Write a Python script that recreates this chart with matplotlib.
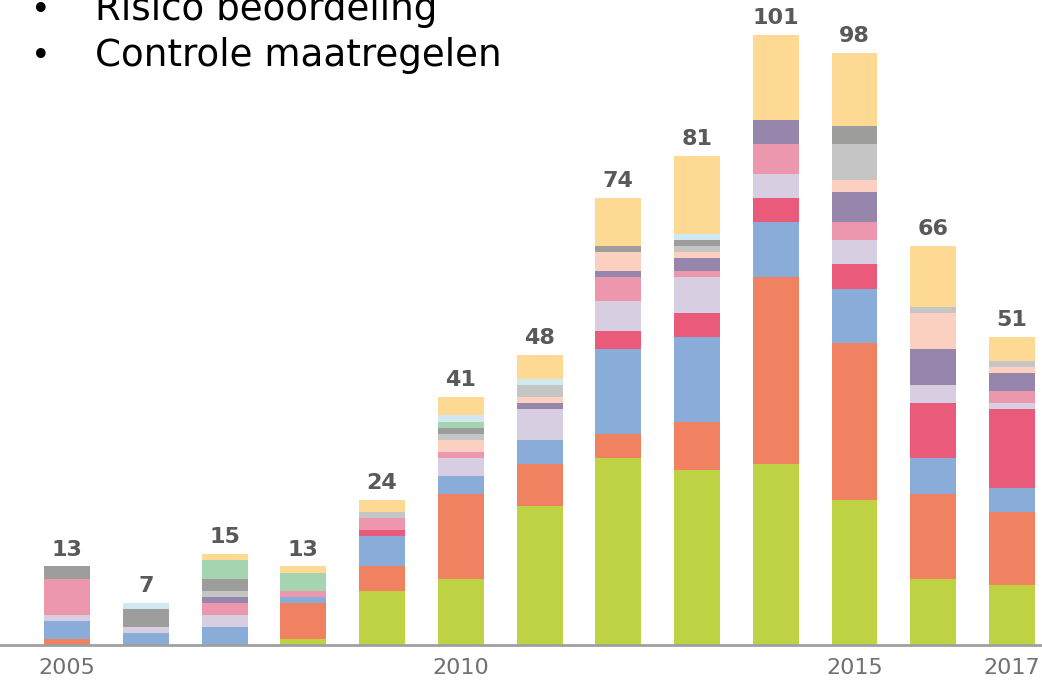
import matplotlib
matplotlib.use("Agg")
from matplotlib import pyplot as plt
import numpy as np

years = [2005, 2006, 2007, 2008, 2009, 2010, 2011, 2012, 2013, 2014, 2015, 2016, 2017]
tick_years = [2005, 2010, 2015, 2017]

# stacked from bottom to top
green = [0, 0, 0, 1, 9, 11, 23, 31, 29, 30, 24, 11, 10]
orange = [1, 0, 0, 6, 4, 14, 7, 4, 8, 31, 26, 14, 12]
blue = [3, 2, 3, 1, 5, 3, 4, 14, 14, 9, 9, 6, 4]
red = [0, 0, 0, 0, 1, 0, 0, 3, 4, 4, 4, 9, 13]
lavender = [1, 1, 2, 0, 0, 3, 5, 5, 6, 4, 4, 3, 1]
pink = [6, 0, 2, 1, 2, 1, 0, 4, 1, 5, 3, 0, 2]
purple = [0, 0, 1, 0, 0, 0, 1, 1, 2, 4, 5, 6, 3]
peach = [0, 0, 0, 0, 0, 2, 1, 3, 1, 0, 2, 6, 1]
lightgray = [0, 0, 1, 0, 1, 1, 2, 0, 1, 0, 6, 1, 1]
darkgray = [2, 3, 2, 0, 0, 1, 0, 1, 1, 0, 3, 0, 0]
lightgreen = [0, 0, 3, 3, 0, 1, 0, 0, 0, 0, 0, 0, 0]
cyan = [0, 1, 0, 0, 0, 1, 1, 0, 1, 0, 0, 0, 0]
yellow = [0, 0, 1, 1, 2, 3, 4, 8, 13, 14, 12, 10, 4]

series = [green, orange, blue, red, lavender, pink, purple, peach,
          lightgray, darkgray, lightgreen, cyan, yellow]
colors = ['#BFD243', '#F08262', '#8AACD9', '#EA5A7A', '#D8CEE2', '#EC97AE',
          '#9686AC', '#FBD0C1', '#C5C5C5', '#9D9D9B', '#A7D4B0', '#D0E9F0', '#FDD993']

fig = plt.figure(figsize=(10.42, 6.8), dpi=100)
ax = fig.add_axes([0, 35 / 680, 1, 645 / 680])

x = np.array(years)
bottom = np.zeros(len(years))
for vals, col in zip(series, colors):
    ax.bar(x, vals, bottom=bottom, width=0.584, color=col, linewidth=0)
    bottom += np.array(vals)

for xi, tot in zip(x, bottom):
    ax.annotate(str(int(tot)), (xi, tot), xytext=(0, 5), textcoords='offset points',
                ha='center', va='bottom', fontsize=16, fontweight='bold', color='#595959')

ax.set_xlim(2005 - 0.851, 2005 + 12.381)
ax.set_ylim(0, 645 / 6.04)
ax.set_xticks(tick_years)
ax.set_xticklabels([str(y) for y in tick_years], fontsize=16, color='#707070')
ax.tick_params(axis='x', length=0, pad=9)
ax.set_yticks([])
for s in ['top', 'left', 'right']:
    ax.spines[s].set_visible(False)
ax.spines['bottom'].set_color('#A0A0A0')
ax.spines['bottom'].set_linewidth(2)

# bullet list at the top (first line is cut off by the edge, as in the source)
lines = ['Risico beoordeling', 'Controle maatregelen']
baselines = [20, 66]
for txt, yb in zip(lines, baselines):
    fig.text(31, 680 - yb, '•', fontsize=24, ha='left', va='baseline', transform=None, color='black')
    fig.text(95, 680 - yb, txt, fontsize=26.8, ha='left', va='baseline', transform=None, color='black')

fig.savefig('out.png', dpi=100)
